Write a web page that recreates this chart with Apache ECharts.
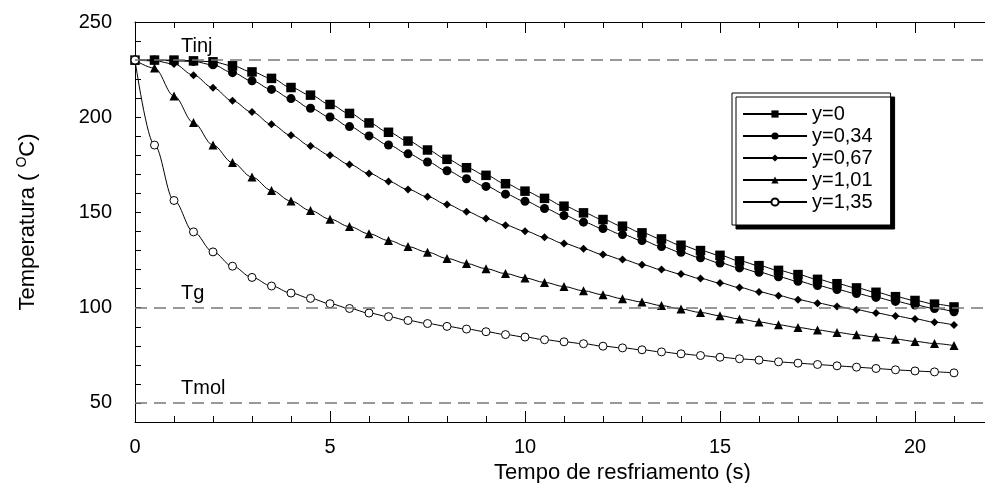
<!DOCTYPE html>
<html>
<head>
<meta charset="utf-8">
<script src="https://cdn.jsdelivr.net/npm/echarts@6/dist/echarts.min.js"></script>
<style>
html, body { margin: 0; padding: 0; background: #fff; }
#chart { width: 985px; height: 483px; }
</style>
</head>
<body>
<div id="chart"></div>
<script>
// tempo de resfriamento (s)
const tempo = [0, 0.5, 1, 1.5, 2, 2.5, 3, 3.5, 4, 4.5, 5, 5.5, 6, 6.5, 7, 7.5, 8, 8.5, 9, 9.5, 10,
  10.5, 11, 11.5, 12, 12.5, 13, 13.5, 14, 14.5, 15, 15.5, 16, 16.5, 17, 17.5, 18, 18.5, 19, 19.5, 20, 20.5, 21];

// temperaturas (oC)
const tY0 = [230, 230, 230, 229.6, 229.1, 227, 223.8, 220.4, 215.6, 211.6, 206.7, 202, 197, 192.1, 187.5, 182.8,
  177.9, 173.5, 169.5, 165.1, 161.2, 157.4, 153.3, 149.8, 146.3, 142.8, 139.3, 136.1, 132.8, 130, 127.5,
  124.6, 122.1, 119.6, 117.4, 114.9, 112.6, 110.4, 108.1, 105.8, 103.8, 101.9, 100.4];
const tY034 = [230, 230, 229.6, 229.3, 227.5, 223.4, 219.1, 214.6, 209.8, 204.7, 200.1, 195.1, 190.2, 185.4, 180.8, 176.5,
  171.9, 167.7, 163.7, 159.6, 155.9, 152.1, 148.4, 144.9, 141.6, 138.4, 135.3, 132.1, 129.1, 126.2, 123.5,
  120.9, 118.6, 116.2, 113.9, 111.6, 109.5, 107.4, 105.4, 103.3, 101.4, 99.6, 97.9];
const tY067 = [230, 229.6, 228, 222.1, 215.5, 208.6, 202.7, 196.3, 190.5, 184.9, 180.1, 175.2, 170.5, 166.3, 162.1, 158.3,
  154.2, 150.4, 146.8, 143.3, 140.2, 137, 133.7, 130.9, 127.9, 125.3, 122.6, 120, 117.7, 115.3, 113,
  110.6, 108.3, 106.3, 104.2, 102.4, 100.7, 98.9, 97.2, 95.6, 94.1, 92.4, 90.9];
const tY101 = [230, 225.8, 211.2, 197.2, 185.4, 176.2, 168.6, 161.6, 156, 151, 146.5, 142.6, 138.8, 135.3, 132.1, 129.1,
  125.9, 123.2, 120.5, 117.9, 115.6, 113.3, 111.1, 108.9, 106.8, 104.7, 103, 101.1, 99.3, 97.5, 95.8,
  94.1, 92.5, 91, 89.6, 88.3, 87, 85.8, 84.6, 83.5, 82.3, 81.2, 80.1];
const tY135 = [230, 185.4, 156.3, 139.8, 129.3, 121.8, 115.9, 111.4, 107.7, 104.9, 102.1, 99.6, 97.2, 95.3, 93.3, 91.7,
  90.2, 88.8, 87.4, 85.9, 84.6, 83.2, 82.1, 81.1, 79.8, 78.9, 77.9, 76.8, 75.8, 74.9, 74,
  73.2, 72.5, 71.6, 70.9, 70.2, 69.5, 68.8, 68.1, 67.4, 66.8, 66.3, 65.8];

const nomesSeries = ['y=0', 'y=0,34', 'y=0,67', 'y=1,01', 'y=1,35'];

// linhas de referencia
const refNomes = ['Tinj', 'Tg', 'Tmol'];
const refValores = [230, 100, 50];

const fonte = '"Liberation Sans", Arial, sans-serif';

function pares(valores) {
  return tempo.map((t, i) => [t, valores[i]]);
}

function linha(nome, valores, simbolo, tam, estilo) {
  return {
    name: nome,
    type: 'line',
    data: pares(valores),
    smooth: 0.35,
    smoothMonotone: 'x',
    symbol: simbolo,
    symbolSize: tam,
    showAllSymbol: true,
    lineStyle: { color: '#000', width: 1 },
    itemStyle: estilo || { color: '#000' }
  };
}

const series = [
  linha(nomesSeries[0], tY0, 'rect', 9.5),
  linha(nomesSeries[1], tY034, 'circle', 9),
  linha(nomesSeries[2], tY067, 'diamond', 8),
  linha(nomesSeries[3], tY101, 'triangle', 9),
  linha(nomesSeries[4], tY135, 'circle', 8, { color: '#fff', borderColor: '#000', borderWidth: 1 }),
  {
    // ponto central dos circulos abertos
    type: 'scatter',
    data: pares(tY135),
    symbol: 'circle',
    symbolSize: 2,
    itemStyle: { color: '#000' },
    silent: true
  }
];

series[0].markLine = {
  silent: true,
  symbol: 'none',
  lineStyle: { type: [12, 7], color: '#777', width: 1.5 },
  label: {
    position: 'insideStartTop',
    distance: [46, 4],
    formatter: p => p.name,
    color: '#000',
    fontSize: 20,
    fontFamily: fonte
  },
  data: refNomes.map((n, i) => ({ name: n, yAxis: refValores[i] }))
};

const chart = echarts.init(document.getElementById('chart'));
chart.setOption({
  animation: false,
  backgroundColor: '#fff',
  textStyle: { fontFamily: fonte },
  grid: { left: 135, top: 22, bottom: 61, right: -125, outerBoundsMode: 'none', containLabel: false },
  legend: {
    orient: 'vertical',
    left: 732,
    top: 93,
    padding: [11, 18, 13, 10],
    itemWidth: 64,
    itemHeight: 9,
    itemGap: 2,
    backgroundColor: '#fff',
    borderColor: '#000',
    borderWidth: 1,
    shadowColor: '#000',
    shadowBlur: 0,
    shadowOffsetX: 4,
    shadowOffsetY: 4,
    textStyle: { fontSize: 20, lineHeight: 18, color: '#000', fontFamily: fonte },
    data: nomesSeries
  },
  xAxis: [
    {
      type: 'value',
      min: 0,
      max: 25,
      interval: 5,
      position: 'bottom',
      name: 'Tempo de resfriamento (s)',
      nameLocation: 'middle',
      nameGap: 31,
      nameTextStyle: { fontSize: 22, color: '#000', fontFamily: fonte },
      axisLine: { onZero: false, lineStyle: { color: '#000', width: 1 } },
      axisTick: { inside: true, length: 11, lineStyle: { color: '#000' } },
      minorTick: { show: true, splitNumber: 5, length: 6, lineStyle: { color: '#000' } },
      splitLine: { show: false },
      axisLabel: { margin: 15, fontSize: 20, color: '#000', fontFamily: fonte }
    },
    {
      type: 'value',
      min: 0,
      max: 25,
      interval: 5,
      position: 'top',
      axisLine: { onZero: false, lineStyle: { color: '#000', width: 1 } },
      axisTick: { inside: true, length: 11, lineStyle: { color: '#000' } },
      minorTick: { show: true, splitNumber: 5, length: 6, lineStyle: { color: '#000' } },
      splitLine: { show: false },
      axisLabel: { show: false }
    }
  ],
  yAxis: {
    type: 'value',
    min: 40,
    max: 250,
    interval: 10,
    name: 'Temperatura ( {sup|O}C)',
    nameLocation: 'middle',
    nameGap: 94,
    nameTextStyle: {
      fontSize: 22, color: '#000', fontFamily: fonte, lineHeight: 26,
      rich: { sup: { fontSize: 14, verticalAlign: 'top', color: '#000', fontFamily: fonte } }
    },
    axisLine: { onZero: false, lineStyle: { color: '#000', width: 1 } },
    axisTick: { inside: true, length: 6, lineStyle: { color: '#000' } },
    splitLine: { show: false },
    axisLabel: {
      margin: 23, fontSize: 20, color: '#000', fontFamily: fonte,
      formatter: v => (v % 50 === 0 ? String(v) : '')
    }
  },
  series: series
});
</script>
</body>
</html>
